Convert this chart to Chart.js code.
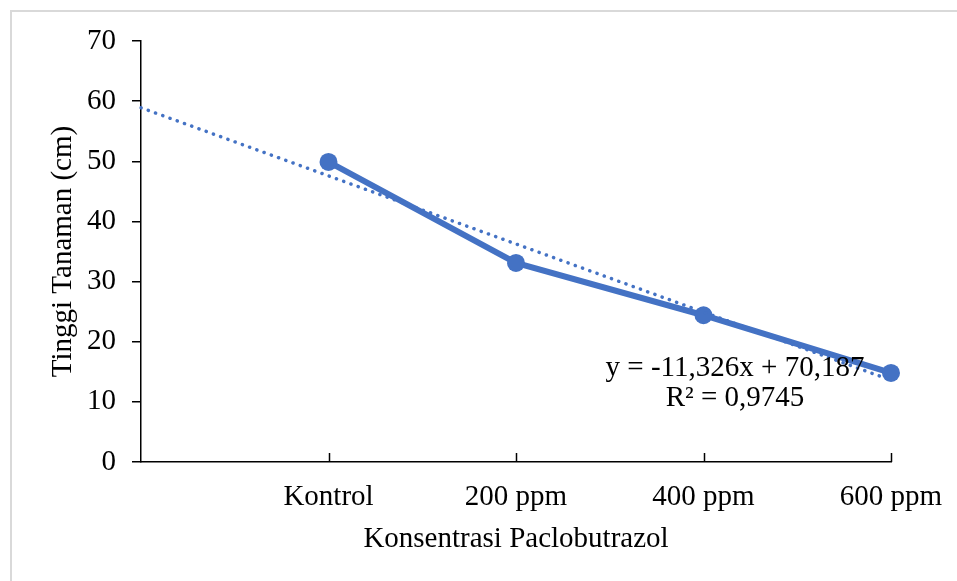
<!DOCTYPE html>
<html>
<head>
<meta charset="utf-8">
<script src="https://cdn.jsdelivr.net/npm/chart.js@4.4.1/dist/chart.umd.min.js"></script>
<style>
  html, body { margin: 0; padding: 0; background: #fff; overflow: hidden; }
  #wrap { position: relative; width: 957px; height: 581px; }
  #frame { position: absolute; left: 10px; top: 10px; width: 960px; height: 580px;
           border-left: 2px solid #d9d9d9; border-top: 2px solid #d9d9d9; }
  canvas { position: absolute; left: 0; top: 0; }
</style>
</head>
<body>
<div id="wrap">
  <div id="frame"></div>
  <canvas id="chart" width="957" height="581"></canvas>
</div>
<script>
// ===========================
// DATA
// ===========================
// first category is blank (Excel numbered Kontrol as x = 2)
const categories = ['', 'Kontrol', '200 ppm', '400 ppm', '600 ppm'];
const tinggiTanaman = [null, 49.9, 33.1, 24.4, 14.8];
// linear trendline, ends
const trendLine = [58.9, null, null, null, 13.6];
const yTicks = [0, 10, 20, 30, 40, 50, 60, 70];
const equationLines = ['y = -11,326x + 70,187', 'R\u00b2 = 0,9745'];

const BLUE = '#4472C4';
const FONT = 'Liberation Serif, Times New Roman, serif';

// inward x tick marks + regression label
const extrasPlugin = {
  id: 'extras',
  afterDraw(chart) {
    const ctx = chart.ctx;
    const x = chart.scales.x;
    const y = chart.scales.y;
    ctx.save();
    ctx.strokeStyle = '#000';
    ctx.lineWidth = 1.5;
    categories.forEach((c, i) => {
      if (i === 0) return;
      const px = Math.round(x.getPixelForValue(i)) + 0.5;
      ctx.beginPath();
      ctx.moveTo(px, y.bottom);
      ctx.lineTo(px, y.bottom - 9);
      ctx.stroke();
    });
    ctx.fillStyle = '#000';
    ctx.font = '29px ' + FONT;
    ctx.textAlign = 'center';
    ctx.textBaseline = 'middle';
    ctx.fillText(equationLines[0], 735, 368);
    ctx.fillText(equationLines[1], 735, 398);
    ctx.restore();
  }
};

new Chart(document.getElementById('chart'), {
  type: 'line',
  data: {
    labels: categories,
    datasets: [
      {
        label: 'Linear',
        data: trendLine,
        spanGaps: true,
        borderColor: BLUE,
        borderWidth: 3.5,
        borderDash: [0.1, 7.6],
        borderCapStyle: 'round',
        pointRadius: 0,
        fill: false,
        order: 0
      },
      {
        label: 'Tinggi Tanaman',
        data: tinggiTanaman,
        borderColor: BLUE,
        backgroundColor: BLUE,
        borderWidth: 6,
        pointRadius: 9,
        pointBackgroundColor: BLUE,
        pointBorderWidth: 0,
        fill: false,
        order: 1
      }
    ]
  },
  plugins: [extrasPlugin],
  options: {
    responsive: false,
    animation: false,
    layout: { padding: { top: 41, right: 66, left: 0, bottom: 0 } },
    plugins: {
      legend: { display: false },
      tooltip: { enabled: false }
    },
    scales: {
      x: {
        type: 'category',
        offset: false,
        afterFit(scale) {
          scale.height = 119;
          scale.paddingLeft = 0;
          scale.paddingRight = 0;
        },
        grid: { display: true, drawOnChartArea: false, drawTicks: false },
        border: { display: true, color: '#000', width: 1.5 },
        ticks: {
          autoSkip: false,
          maxRotation: 0,
          padding: 18,
          color: '#000',
          font: { family: FONT, size: 29 }
        },
        title: {
          display: true,
          text: 'Konsentrasi Paclobutrazol',
          color: '#000',
          font: { family: FONT, size: 29 },
          padding: { top: 0, bottom: 24 }
        }
      },
      y: {
        min: 0,
        max: 70,
        afterFit(scale) { scale.width = 141; },
        afterBuildTicks(scale) { scale.ticks = yTicks.map(v => ({ value: v })); },
        grid: { display: true, drawOnChartArea: false, drawTicks: true, tickLength: 9, color: '#000', lineWidth: 1.5 },
        border: { display: true, color: '#000', width: 1.5 },
        ticks: {
          padding: 16,
          color: '#000',
          font: { family: FONT, size: 29 }
        },
        title: {
          display: true,
          text: 'Tinggi Tanaman (cm)',
          color: '#000',
          font: { family: FONT, size: 29 },
          padding: { top: 46, bottom: 0 }
        }
      }
    }
  }
});
</script>
</body>
</html>
